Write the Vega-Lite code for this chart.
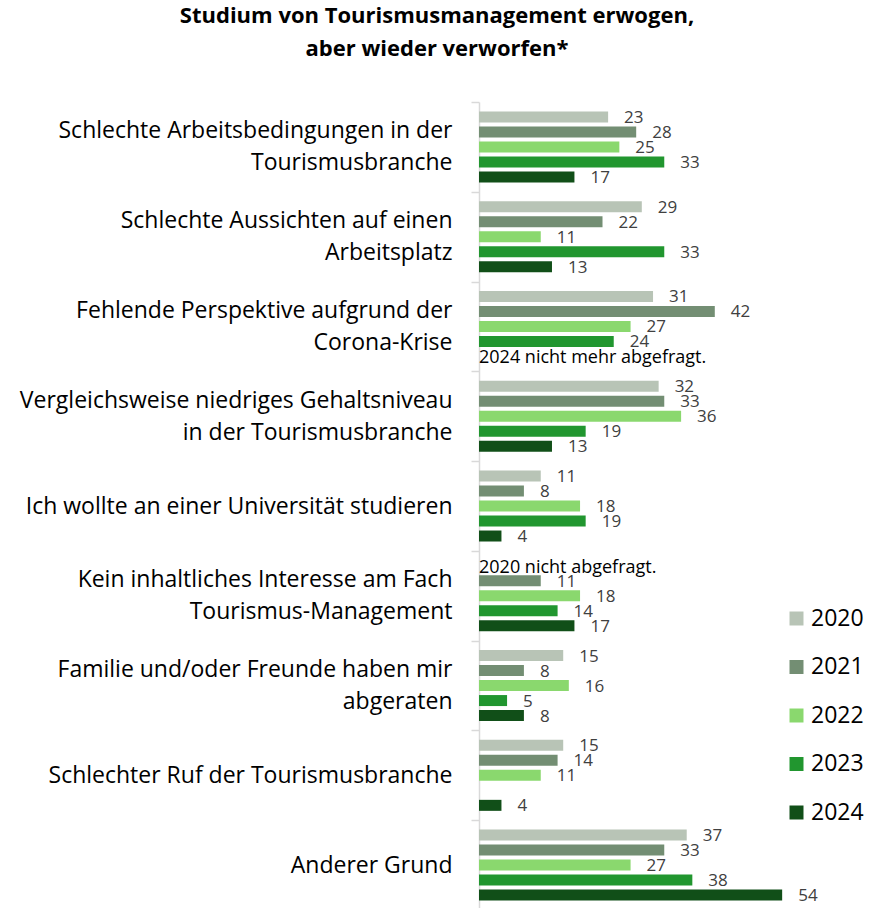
{
  "$schema": "https://vega.github.io/schema/vega-lite/v6.json",
  "width": 320,
  "height": 808,
  "autosize": {"type": "none"},
  "padding": {"left": 479, "top": 102, "right": 72, "bottom": 0},
  "background": "white",
  "config": {"view": {"stroke": null}, "font": "Open Sans"},
  "title": {
    "text": ["Studium von Tourismusmanagement erwogen,", "aber wieder verworfen*"],
    "fontSize": 22,
    "fontWeight": "bold",
    "font": "Open Sans",
    "lineHeight": 33,
    "anchor": "middle",
    "dx": -202,
    "offset": 30,
    "color": "#000000"
  },
  "datasets": {
    "bars": [
      {"grund": "Schlechte Arbeitsbedingungen in der\nTourismusbranche", "jahr": "2020", "wert": 23},
      {"grund": "Schlechte Arbeitsbedingungen in der\nTourismusbranche", "jahr": "2021", "wert": 28},
      {"grund": "Schlechte Arbeitsbedingungen in der\nTourismusbranche", "jahr": "2022", "wert": 25},
      {"grund": "Schlechte Arbeitsbedingungen in der\nTourismusbranche", "jahr": "2023", "wert": 33},
      {"grund": "Schlechte Arbeitsbedingungen in der\nTourismusbranche", "jahr": "2024", "wert": 17},
      {"grund": "Schlechte Aussichten auf einen\nArbeitsplatz", "jahr": "2020", "wert": 29},
      {"grund": "Schlechte Aussichten auf einen\nArbeitsplatz", "jahr": "2021", "wert": 22},
      {"grund": "Schlechte Aussichten auf einen\nArbeitsplatz", "jahr": "2022", "wert": 11},
      {"grund": "Schlechte Aussichten auf einen\nArbeitsplatz", "jahr": "2023", "wert": 33},
      {"grund": "Schlechte Aussichten auf einen\nArbeitsplatz", "jahr": "2024", "wert": 13},
      {"grund": "Fehlende Perspektive aufgrund der\nCorona-Krise", "jahr": "2020", "wert": 31},
      {"grund": "Fehlende Perspektive aufgrund der\nCorona-Krise", "jahr": "2021", "wert": 42},
      {"grund": "Fehlende Perspektive aufgrund der\nCorona-Krise", "jahr": "2022", "wert": 27},
      {"grund": "Fehlende Perspektive aufgrund der\nCorona-Krise", "jahr": "2023", "wert": 24},
      {"grund": "Vergleichsweise niedriges Gehaltsniveau\nin der Tourismusbranche", "jahr": "2020", "wert": 32},
      {"grund": "Vergleichsweise niedriges Gehaltsniveau\nin der Tourismusbranche", "jahr": "2021", "wert": 33},
      {"grund": "Vergleichsweise niedriges Gehaltsniveau\nin der Tourismusbranche", "jahr": "2022", "wert": 36},
      {"grund": "Vergleichsweise niedriges Gehaltsniveau\nin der Tourismusbranche", "jahr": "2023", "wert": 19},
      {"grund": "Vergleichsweise niedriges Gehaltsniveau\nin der Tourismusbranche", "jahr": "2024", "wert": 13},
      {"grund": "Ich wollte an einer Universität studieren", "jahr": "2020", "wert": 11},
      {"grund": "Ich wollte an einer Universität studieren", "jahr": "2021", "wert": 8},
      {"grund": "Ich wollte an einer Universität studieren", "jahr": "2022", "wert": 18},
      {"grund": "Ich wollte an einer Universität studieren", "jahr": "2023", "wert": 19},
      {"grund": "Ich wollte an einer Universität studieren", "jahr": "2024", "wert": 4},
      {"grund": "Kein inhaltliches Interesse am Fach\nTourismus-Management", "jahr": "2021", "wert": 11},
      {"grund": "Kein inhaltliches Interesse am Fach\nTourismus-Management", "jahr": "2022", "wert": 18},
      {"grund": "Kein inhaltliches Interesse am Fach\nTourismus-Management", "jahr": "2023", "wert": 14},
      {"grund": "Kein inhaltliches Interesse am Fach\nTourismus-Management", "jahr": "2024", "wert": 17},
      {"grund": "Familie und/oder Freunde haben mir\nabgeraten", "jahr": "2020", "wert": 15},
      {"grund": "Familie und/oder Freunde haben mir\nabgeraten", "jahr": "2021", "wert": 8},
      {"grund": "Familie und/oder Freunde haben mir\nabgeraten", "jahr": "2022", "wert": 16},
      {"grund": "Familie und/oder Freunde haben mir\nabgeraten", "jahr": "2023", "wert": 5},
      {"grund": "Familie und/oder Freunde haben mir\nabgeraten", "jahr": "2024", "wert": 8},
      {"grund": "Schlechter Ruf der Tourismusbranche", "jahr": "2020", "wert": 15},
      {"grund": "Schlechter Ruf der Tourismusbranche", "jahr": "2021", "wert": 14},
      {"grund": "Schlechter Ruf der Tourismusbranche", "jahr": "2022", "wert": 11},
      {"grund": "Schlechter Ruf der Tourismusbranche", "jahr": "2024", "wert": 4},
      {"grund": "Anderer Grund", "jahr": "2020", "wert": 37},
      {"grund": "Anderer Grund", "jahr": "2021", "wert": 33},
      {"grund": "Anderer Grund", "jahr": "2022", "wert": 27},
      {"grund": "Anderer Grund", "jahr": "2023", "wert": 38},
      {"grund": "Anderer Grund", "jahr": "2024", "wert": 54}
    ],
    "notes": [
      {"grund": "Fehlende Perspektive aufgrund der\nCorona-Krise", "jahr": "2024", "wert": 0, "hinweis": "2024 nicht mehr abgefragt."},
      {"grund": "Kein inhaltliches Interesse am Fach\nTourismus-Management", "jahr": "2020", "wert": 0, "hinweis": "2020 nicht abgefragt."}
    ]
  },
  "encoding": {
    "y": {
      "field": "grund",
      "type": "nominal",
      "sort": [
        "Schlechte Arbeitsbedingungen in der\nTourismusbranche",
        "Schlechte Aussichten auf einen\nArbeitsplatz",
        "Fehlende Perspektive aufgrund der\nCorona-Krise",
        "Vergleichsweise niedriges Gehaltsniveau\nin der Tourismusbranche",
        "Ich wollte an einer Universität studieren",
        "Kein inhaltliches Interesse am Fach\nTourismus-Management",
        "Familie und/oder Freunde haben mir\nabgeraten",
        "Schlechter Ruf der Tourismusbranche",
        "Anderer Grund"
      ],
      "scale": {"paddingInner": 0, "paddingOuter": 0},
      "axis": {
        "title": null,
        "labelExpr": "split(datum.label, '\\n')",
        "labelFontSize": 23,
        "labelFont": "Open Sans",
        "labelColor": "#000000",
        "labelLineHeight": 32,
        "labelPadding": 19,
        "labelLimit": 500,
        "labelOffset": {"expr": "indexof(datum.label, '\\n') >= 0 ? -16 : 0"},
        "tickBand": "extent",
        "tickSize": 8,
        "tickColor": "#d9d9d9",
        "domainColor": "#d9d9d9",
        "domainWidth": 1.5,
        "tickWidth": 1.5,
        "grid": false
      }
    },
    "yOffset": {
      "field": "jahr",
      "type": "nominal",
      "scale": {"domain": ["2020", "2021", "2022", "2023", "2024"], "paddingInner": 0.267, "paddingOuter": 0.625}
    },
    "x": {
      "field": "wert",
      "type": "quantitative",
      "scale": {"domain": [0, 57]},
      "axis": null
    }
  },
  "layer": [
    {
      "data": {"name": "bars"},
      "mark": {"type": "bar"},
      "encoding": {
        "color": {
          "field": "jahr",
          "type": "nominal",
          "scale": {
            "domain": ["2020", "2021", "2022", "2023", "2024"],
            "range": ["#b8c4b6", "#738e73", "#8ad86e", "#21962f", "#114f18"]
          },
          "legend": {
            "title": null,
            "orient": "none",
            "legendX": 306,
            "legendY": 505,
            "symbolType": "square",
            "symbolSize": 196,
            "symbolStrokeWidth": 0,
            "labelFontSize": 23,
            "labelFont": "Open Sans",
            "labelColor": "#000000",
            "labelOffset": 3,
            "rowPadding": 24.5
          }
        }
      }
    },
    {
      "data": {"name": "bars"},
      "mark": {"type": "text", "align": "left", "baseline": "middle", "dx": 16, "dy": 1, "fontSize": 17, "font": "Open Sans", "color": "#404040"},
      "encoding": {"text": {"field": "wert", "type": "quantitative"}}
    },
    {
      "data": {"name": "notes"},
      "mark": {"type": "text", "align": "left", "baseline": "middle", "dx": 0, "dy": 2, "fontSize": 18, "font": "Open Sans", "color": "#000000"},
      "encoding": {"text": {"field": "hinweis", "type": "nominal"}}
    }
  ]
}
